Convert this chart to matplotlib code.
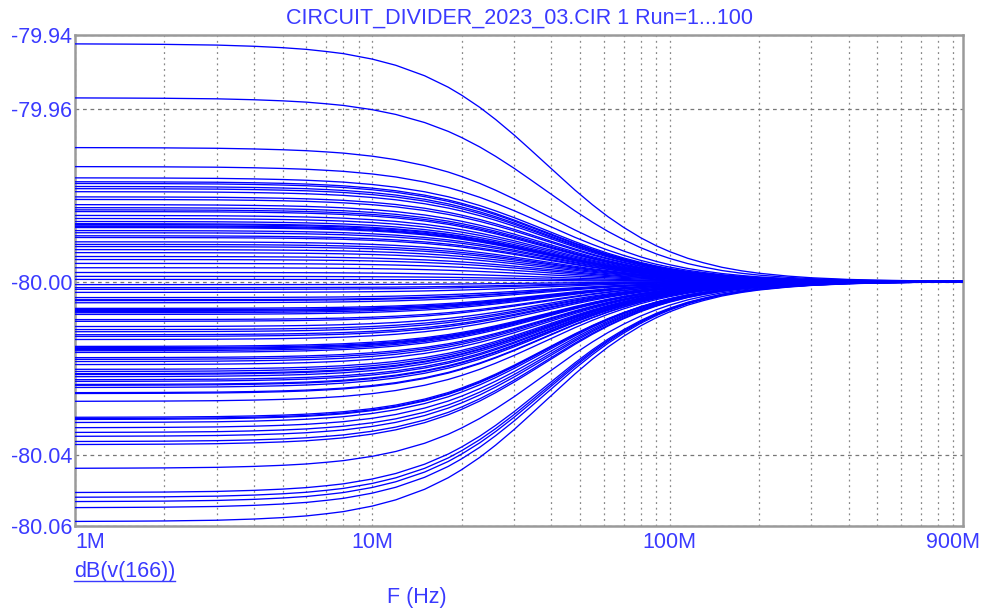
import numpy as np
import matplotlib
matplotlib.use("Agg")
import matplotlib.pyplot as plt
from matplotlib.ticker import LogLocator, NullFormatter, FixedLocator
from matplotlib.lines import Line2D

plt.rcParams['font.family'] = ['Liberation Sans', 'DejaVu Sans']

# level of each run at the low-frequency end (dB)
start_levels = [
    -79.9450, -79.9575, -79.9690, -79.9734, -79.9760, -79.9769, -79.9773, -79.9780,
    -79.9785, -79.9792, -79.9804, -79.9810, -79.9822, -79.9829, -79.9834, -79.9838,
    -79.9847, -79.9854, -79.9861, -79.9866, -79.9868, -79.9871, -79.9873, -79.9875,
    -79.9882, -79.9887, -79.9894, -79.9898, -79.9908, -79.9914, -79.9919, -79.9926,
    -79.9933, -79.9942, -79.9949, -79.9958, -79.9968, -79.9979, -79.9988, -79.9995,
    -80.0007, -80.0014, -80.0018, -80.0025, -80.0037, -80.0042, -80.0044, -80.0049,
    -80.0062, -80.0065, -80.0067, -80.0069, -80.0072, -80.0076, -80.0088, -80.0092,
    -80.0104, -80.0111, -80.0116, -80.0123, -80.0127, -80.0134, -80.0150, -80.0153,
    -80.0155, -80.0157, -80.0160, -80.0164, -80.0176, -80.0180, -80.0185, -80.0192,
    -80.0203, -80.0208, -80.0213, -80.0215, -80.0220, -80.0227, -80.0231, -80.0238,
    -80.0240, -80.0245, -80.0257, -80.0259, -80.0277, -80.0314, -80.0317, -80.0319,
    -80.0326, -80.0338, -80.0349, -80.0358, -80.0370, -80.0377, -80.0432, -80.0488,
    -80.0499, -80.0509, -80.0523, -80.0555,
]
final_level = -80.0

# sweep frequencies (MHz) and the fraction of the initial offset still left there
freq_mhz = [1, 1.5, 2, 3, 4, 5, 6, 7, 8, 10, 12, 15, 18, 20, 23, 26, 30, 34, 38,
            43, 48, 55, 62, 70, 80, 90, 100, 115, 130, 150, 175, 200, 250, 300,
            400, 500, 700, 970]
remaining = [0.999, 0.998, 0.997, 0.994, 0.989, 0.983, 0.976, 0.967, 0.958,
             0.935, 0.909, 0.865, 0.817, 0.783, 0.732, 0.681, 0.616, 0.555, 0.500,
             0.439, 0.385, 0.323, 0.273, 0.228, 0.184, 0.151, 0.126, 0.098,
             0.079, 0.060, 0.045, 0.035, 0.023, 0.016, 0.009, 0.006, 0.003, 0.0015]

title = "CIRCUIT_DIVIDER_2023_03.CIR 1 Run=1...100"
x_ticks = [1e6, 1e7, 1e8, 9e8]
x_tick_labels = ["1M", "10M", "100M", "900M"]
y_min, y_max = -80.0565, -79.943
y_ticks = [y_min, -80.04, -80.00, -79.96, y_max]
y_tick_labels = ["-80.06", "-80.04", "-80.00", "-79.96", "-79.94"]

blue = "#0000ff"
text_blue = "#3a3aff"
fs = 15.5

fig = plt.figure(figsize=(9.83, 6.08), dpi=100)
ax = fig.add_axes([75 / 983, 1 - 526 / 608, (963 - 75) / 983, (526 - 35) / 608])

freq = np.array(freq_mhz) * 1e6
rem = np.array(remaining)
for s in start_levels:
    ax.plot(freq, final_level + (s - final_level) * rem, color=blue, lw=0.95,
            zorder=3)

ax.set_xscale("log")
ax.set_xlim(1e6, 970e6)
ax.set_ylim(y_min, y_max)

ax.xaxis.set_major_locator(FixedLocator(x_ticks))
ax.set_xticklabels(x_tick_labels)
ax.xaxis.set_minor_locator(LogLocator(base=10, subs=range(2, 10)))
ax.xaxis.set_minor_formatter(NullFormatter())
ax.set_yticks(y_ticks)
ax.set_yticklabels(y_tick_labels)
ax.tick_params(which="both", length=0, labelcolor=text_blue, labelsize=fs)
ax.tick_params(axis="x", pad=4)
ax.tick_params(axis="y", pad=2)
ax.get_xticklabels()[0].set_ha("left")

ax.grid(axis="x", which="both", color="#888888", lw=0.9, linestyle=(0, (1.5, 3)))
ax.grid(axis="y", which="major", color="#777777", lw=0.9, linestyle=(0, (3, 3)))

for sp in ax.spines.values():
    sp.set_color("#9a9a9a")
    sp.set_linewidth(1.8)

fig.text((75 + 963) / 2 / 983, 1 - 18 / 608, title, ha="center", va="center",
         color=text_blue, fontsize=fs)
lab = fig.text(74 / 983, 1 - 571 / 608, "dB(v(166))", ha="left", va="center",
               color=text_blue, fontsize=fs)
fig.text(417 / 983, 1 - 598 / 608, "F (Hz)", ha="center", va="center",
         color=text_blue, fontsize=fs)

# underline the trace name like the simulator does
fig.canvas.draw()
bb = lab.get_window_extent()
fig.add_artist(Line2D([bb.x0 / 983, bb.x1 / 983],
                      [(bb.y0 + 1) / 608, (bb.y0 + 1) / 608],
                      color=text_blue, lw=1.0))

fig.savefig("out.png", dpi=100)
